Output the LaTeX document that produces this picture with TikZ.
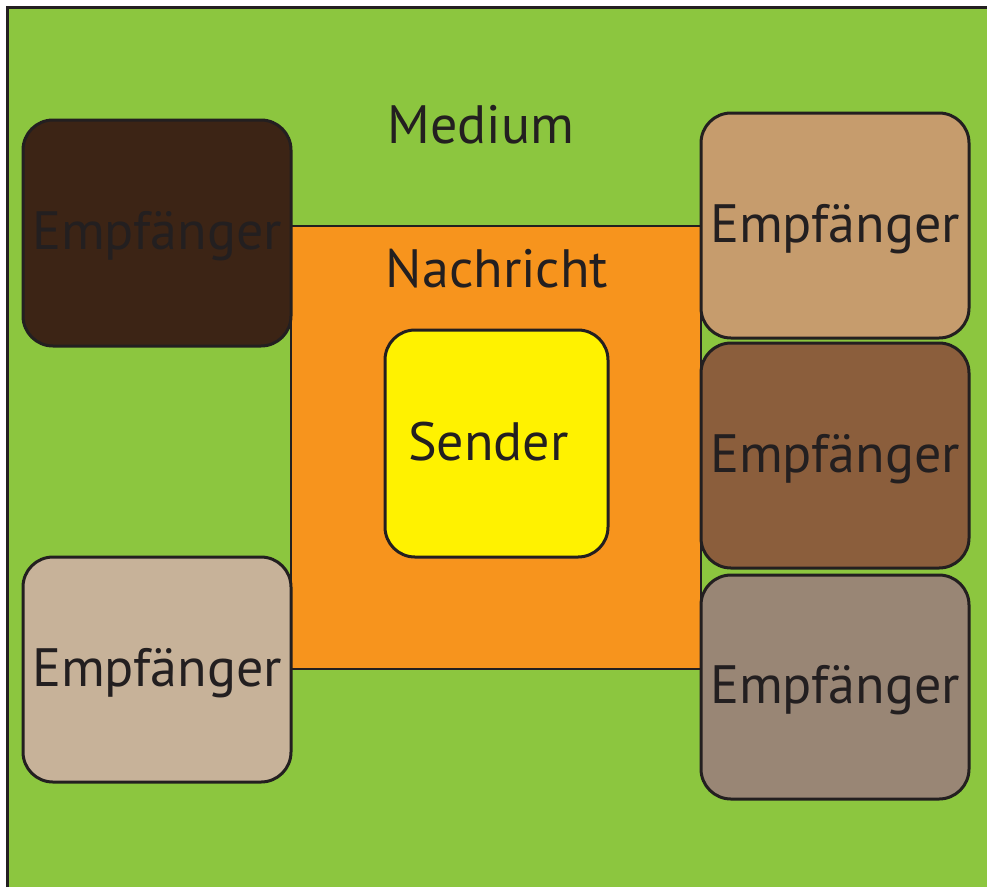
\documentclass[tikz,border=0pt]{standalone}
\usepackage{fontspec}
\setmainfont{PT Sans}
\usepackage{xcolor}
\usepackage{tikz}
\usetikzlibrary{positioning}

\definecolor{ink}{HTML}{231F20}
\definecolor{medgreen}{HTML}{8CC63F}
\definecolor{msgorange}{HTML}{F7941D}
\definecolor{sendyellow}{HTML}{FFF200}
\definecolor{darkbrown}{HTML}{3C2415}
\definecolor{tan}{HTML}{C69C6D}
\definecolor{midbrown}{HTML}{8B5E3C}
\definecolor{greybrown}{HTML}{998675}
\definecolor{beige}{HTML}{C7B299}

\begin{document}
\begin{tikzpicture}[x=1pt, y=-1pt,
      box/.style={rectangle, rounded corners=30pt, draw=ink, line width=3pt, inner sep=0pt,
        minimum width=268pt, minimum height=225pt, text=ink, text height=46pt, text depth=13pt,
        font=\fontsize{54}{60}\selectfont},
      lbl/.style={text=ink, inner sep=0pt, anchor=base, font=\fontsize{54}{60}\selectfont}
    ]
    \useasboundingbox (0,0) rectangle (987,887);
    % Medium
    \fill[medgreen] (7.5,7.5) rectangle (987,887);
    \draw[ink, line width=3pt] (7.5,887) -- (7.5,7.5) -- (987,7.5);
    \node[lbl] (medium) at (481,143) {Medium};

    % Message
    \node[rectangle, fill=msgorange, draw=ink, line width=2pt, minimum width=410pt, minimum height=443pt] (msg) at (496,447.5) {};
    \node[lbl] (nachricht) at (497,287) {Nachricht};

    % Sender
    \node[box, fill=sendyellow, minimum width=223pt, minimum height=227pt] (sender) at (496.5,443.5) {Sender\hspace*{16pt}};

    % Receivers
    \node[box, fill=darkbrown, minimum height=226pt] (e1) at (157,233) {Empfänger};
    \node[box, fill=beige] (e2) at (157,669.5) {Empfänger};
    \node[box, fill=tan] (e3) at (835,225.5) {Empfänger};
    \node[box, fill=midbrown] (e4) at (835,455.5) {Empfänger};
    \node[box, fill=greybrown, minimum height=224pt] (e5) at (835,687) {Empfänger};
  \end{tikzpicture}
\end{document}
